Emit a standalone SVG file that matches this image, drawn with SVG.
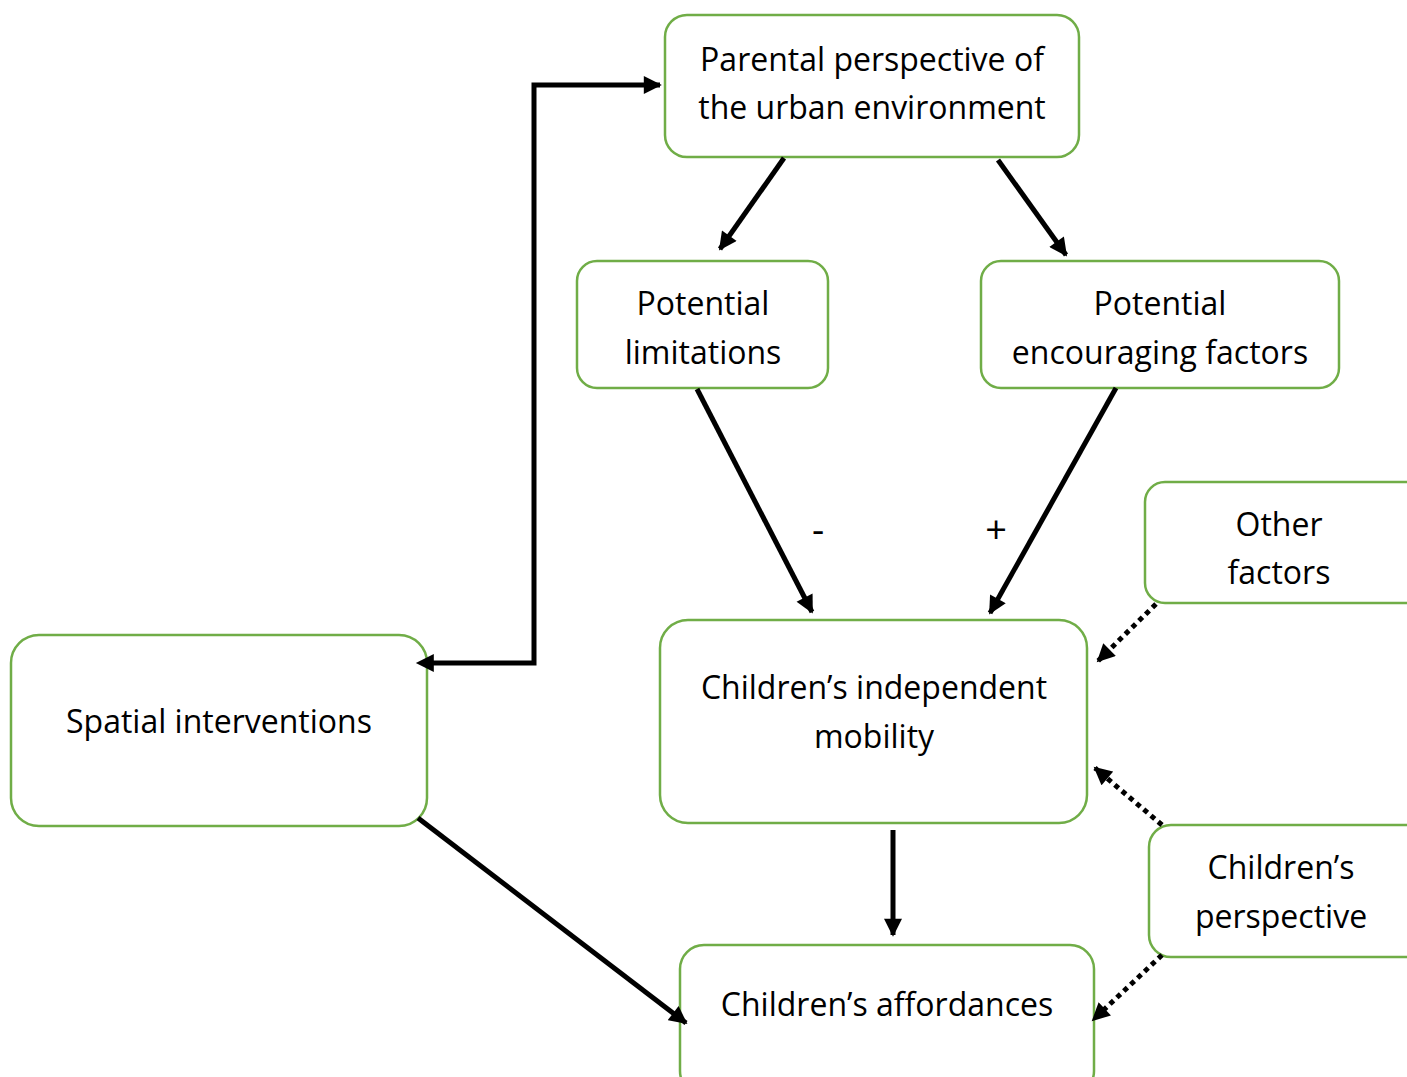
<svg xmlns="http://www.w3.org/2000/svg" width="1407" height="1077" viewBox="0 0 1407 1077">
<style>
.box{fill:#fff;stroke:#70ad47;stroke-width:2.5}
.t{font-family:"Open Sans","Noto Sans",sans-serif;font-size:32px;fill:#000;text-anchor:middle;dominant-baseline:central}
.c{fill:none;stroke:#000;stroke-width:5}
.d{fill:none;stroke:#000;stroke-width:5;stroke-dasharray:5 4.5}
</style>
<defs>
<marker id="ah" viewBox="0 0 10 10" refX="9" refY="5" markerWidth="3.8" markerHeight="3.6" orient="auto" markerUnits="strokeWidth">
<path d="M0,0 L10,5 L0,10 z" fill="#000"/>
</marker>
<marker id="as" viewBox="0 0 10 10" refX="1" refY="5" markerWidth="3.8" markerHeight="3.6" orient="auto-start-reverse" markerUnits="strokeWidth">
<path d="M0,0 L10,5 L0,10 z" fill="#000"/>
</marker>
</defs>
<rect width="1407" height="1077" fill="#fff"/>
<g id="n-parental"><rect class="box" x="665" y="15" width="414" height="142" rx="22"/><text class="t" x="872" y="58">Parental perspective of</text><text class="t" x="872" y="106">the urban environment</text></g>
<g id="n-limitations"><rect class="box" x="577" y="261" width="251" height="127" rx="20"/><text class="t" x="703" y="302">Potential</text><text class="t" x="703" y="351">limitations</text></g>
<g id="n-encouraging"><rect class="box" x="981" y="261" width="358" height="127" rx="20"/><text class="t" x="1160" y="302">Potential</text><text class="t" x="1160" y="351">encouraging factors</text></g>
<g id="n-other"><rect class="box" x="1145" y="482" width="280" height="121" rx="20"/><text class="t" x="1279" y="523">Other</text><text class="t" x="1279" y="571">factors</text></g>
<g id="n-mobility"><rect class="box" x="660" y="620" width="427" height="203" rx="28"/><text class="t" x="874" y="686">Children’s independent</text><text class="t" x="874" y="735">mobility</text></g>
<g id="n-spatial"><rect class="box" x="11" y="635" width="416" height="191" rx="28"/><text class="t" x="219" y="720">Spatial interventions</text></g>
<g id="n-perspective"><rect class="box" x="1149" y="825" width="280" height="132" rx="22"/><text class="t" x="1281" y="866">Children’s</text><text class="t" x="1281" y="915">perspective</text></g>
<g id="n-affordances"><rect class="box" x="680" y="945" width="414" height="150" rx="24"/><text class="t" x="887" y="1003">Children’s affordances</text></g>
<g id="connectors">
<path class="c" d="M432,663 H534 V85 H660" marker-start="url(#as)" marker-end="url(#ah)"/>
<line class="c" x1="784" y1="158" x2="720" y2="249" marker-end="url(#ah)"/>
<line class="c" x1="998" y1="160" x2="1066" y2="255" marker-end="url(#ah)"/>
<line class="c" x1="697" y1="389" x2="812" y2="612" marker-end="url(#ah)"/>
<line class="c" x1="1116" y1="388" x2="990" y2="613" marker-end="url(#ah)"/>
<line class="c" x1="893" y1="830" x2="893" y2="935" marker-end="url(#ah)"/>
<line class="c" x1="418" y1="818" x2="686" y2="1023" marker-end="url(#ah)"/>
<line class="d" x1="1156" y1="604" x2="1098" y2="661" marker-end="url(#ah)"/>
<line class="d" x1="1162" y1="825" x2="1095" y2="768" marker-end="url(#ah)"/>
<line class="d" x1="1162" y1="955" x2="1093" y2="1020" marker-end="url(#ah)"/>
<text class="t" x="818" y="528" style="font-size:38px">-</text>
<text class="t" x="996" y="528" style="font-size:38px">+</text>
</g>
</svg>
